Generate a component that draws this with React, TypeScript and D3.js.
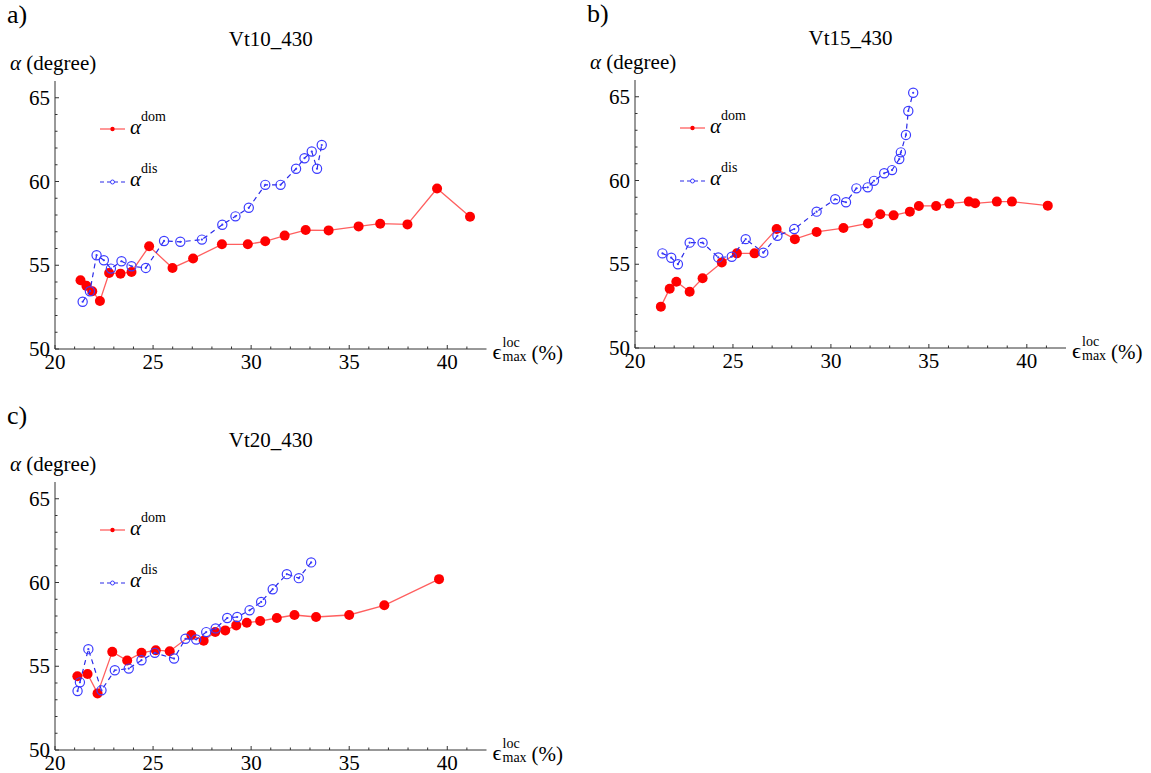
import React from "react";
import * as d3 from "d3";

// ---- Data ----
const aDomX = [21.3, 21.6, 21.9, 22.29, 22.76, 23.34, 23.9, 24.8, 25.99, 27.04, 28.51, 29.83, 30.72, 31.71, 32.78, 33.95, 35.48, 36.58, 37.97, 39.48, 41.16];
const aDomY = [54.1, 53.77, 53.45, 52.87, 54.54, 54.5, 54.6, 56.13, 54.84, 55.4, 56.25, 56.25, 56.43, 56.77, 57.1, 57.08, 57.32, 57.48, 57.44, 59.58, 57.9];
const aDisX = [21.41, 21.78, 22.12, 22.49, 22.85, 23.39, 23.9, 24.63, 25.56, 26.39, 27.49, 28.53, 29.2, 29.88, 30.72, 31.5, 32.29, 32.72, 33.09, 33.36, 33.6];
const aDisY = [52.82, 53.45, 55.6, 55.3, 54.8, 55.24, 54.94, 54.84, 56.45, 56.4, 56.53, 57.42, 57.92, 58.43, 59.8, 59.8, 60.76, 61.39, 61.79, 60.76, 62.18];

const bDomX = [21.32, 21.77, 22.11, 22.79, 23.45, 24.43, 25.2, 26.1, 27.23, 28.16, 29.27, 30.64, 31.89, 32.52, 33.2, 34.03, 34.49, 35.37, 36.05, 37.04, 37.36, 38.47, 39.24, 41.07];
const bDomY = [52.47, 53.54, 53.96, 53.36, 54.16, 55.11, 55.65, 55.65, 57.1, 56.5, 56.93, 57.16, 57.44, 57.98, 57.92, 58.14, 58.48, 58.48, 58.62, 58.74, 58.64, 58.74, 58.74, 58.5];
const bDisX = [21.4, 21.85, 22.19, 22.79, 23.45, 24.25, 24.94, 25.65, 26.55, 27.27, 28.13, 29.27, 30.22, 30.77, 31.3, 31.88, 32.2, 32.72, 33.12, 33.49, 33.57, 33.83, 33.95, 34.2];
const bDisY = [55.65, 55.39, 55.0, 56.29, 56.29, 55.41, 55.45, 56.5, 55.69, 56.7, 57.1, 58.14, 58.88, 58.7, 59.53, 59.59, 59.98, 60.43, 60.62, 61.28, 61.68, 62.72, 64.15, 65.24];

const cDomX = [21.14, 21.66, 22.17, 22.92, 23.68, 24.41, 25.14, 25.85, 26.95, 27.58, 28.17, 28.68, 29.24, 29.78, 30.46, 31.31, 32.21, 33.31, 35.0, 36.79, 39.58];
const cDomY = [54.4, 54.54, 53.38, 55.86, 55.34, 55.8, 55.96, 55.9, 56.86, 56.52, 57.04, 57.14, 57.44, 57.6, 57.7, 57.88, 58.06, 57.94, 58.06, 58.64, 60.2];
const cDisX = [21.15, 21.27, 21.7, 22.37, 23.05, 23.76, 24.41, 25.09, 26.07, 26.65, 27.2, 27.71, 28.19, 28.78, 29.29, 29.92, 30.51, 31.1, 31.82, 32.43, 33.06];
const cDisY = [53.52, 54.04, 56.02, 53.56, 54.76, 54.86, 55.36, 55.8, 55.46, 56.64, 56.6, 57.04, 57.26, 57.88, 57.94, 58.34, 58.84, 59.6, 60.5, 60.26, 61.2];

const xMajorTicks = [20, 25, 30, 35, 40];
const xMinorTicks = d3.range(21, 42).filter((v) => v % 5 !== 0);
const yMajorTicks = [50, 55, 60, 65];
const yMinorTicks = d3.range(51, 66).filter((v) => v % 5 !== 0);
const xDomain = [20, 42];
const yDomain = [50, 66];

const titles = ["Vt10_430", "Vt15_430", "Vt20_430"];
const letters = ["a)", "b)", "c)"];

const FONT = "'Liberation Serif', 'Times New Roman', 'DejaVu Serif', serif";
const RED = "#ff0000";
const RED_LINE = "#ff5f5f";
const BLUE = "#3c3cff";
const BLUE_LINE = "#2a2ae8";

type PanelProps = {
  x0: number;
  y50: number;
  width: number;
  title: string;
  letter: string;
  domX: number[];
  domY: number[];
  disX: number[];
  disY: number[];
};

function Panel({ x0, y50, width, title, letter, domX, domY, disX, disY }: PanelProps) {
  const height = 268;
  const xs = d3.scaleLinear().domain(xDomain).range([x0, x0 + width]);
  const ys = d3.scaleLinear().domain(yDomain).range([y50, y50 - height]);
  const line = d3
    .line<[number, number]>()
    .x((d) => xs(d[0]))
    .y((d) => ys(d[1]));
  const dom: [number, number][] = domX.map((x, i) => [x, domY[i]]);
  const dis: [number, number][] = disX.map((x, i) => [x, disY[i]]);
  const xEnd = x0 + width;
  const top = y50 - height;
  const midX = x0 + width / 2;
  const legRedY = top + 48;
  const legBlueY = top + 101;
  const st = { fontFamily: FONT };
  return (
    <g style={st}>
      <text x={x0 - 48} y={y50 - 326} fontSize={26}>
        {letter}
      </text>
      <text x={midX} y={y50 - 303} fontSize={21} textAnchor="middle">
        {title}
      </text>
      <text x={x0 - 45} y={y50 - 279} fontSize={21}>
        <tspan fontStyle="italic">α</tspan>
        <tspan> (degree)</tspan>
      </text>

      <line x1={x0} x2={xEnd} y1={y50} y2={y50} stroke="#333" strokeWidth={1} />
      <line x1={x0} x2={x0} y1={y50} y2={top} stroke="#333" strokeWidth={1} />
      {xMajorTicks.map((t) => (
        <g key={"xM" + t}>
          <line x1={xs(t)} x2={xs(t)} y1={y50} y2={y50 - 4} stroke="#333" />
          <text x={xs(t)} y={y50 + 20} fontSize={21} textAnchor="middle">
            {t}
          </text>
        </g>
      ))}
      {xMinorTicks.map((t) => (
        <line key={"xm" + t} x1={xs(t)} x2={xs(t)} y1={y50} y2={y50 - 2.5} stroke="#333" />
      ))}
      {yMajorTicks.map((t) => (
        <g key={"yM" + t}>
          <line x1={x0} x2={x0 + 4} y1={ys(t)} y2={ys(t)} stroke="#333" />
          <text x={x0 - 5} y={ys(t) + 7} fontSize={21} textAnchor="end">
            {t}
          </text>
        </g>
      ))}
      {yMinorTicks.map((t) => (
        <line key={"ym" + t} x1={x0} x2={x0 + 2.5} y1={ys(t)} y2={ys(t)} stroke="#333" />
      ))}

      <text x={xEnd + 6} y={y50 + 10} fontSize={22}>
        ϵ
      </text>
      <text x={xEnd + 16} y={y50 - 2} fontSize={14}>
        loc
      </text>
      <text x={xEnd + 16} y={y50 + 12} fontSize={14}>
        max
      </text>
      <text x={xEnd + 45} y={y50 + 11} fontSize={21}>
        (%)
      </text>

      <line x1={x0 + 45} x2={x0 + 70} y1={legRedY} y2={legRedY} stroke={RED_LINE} strokeWidth={1.3} />
      <circle cx={x0 + 57.5} cy={legRedY} r={2.2} fill={RED} />
      <text x={x0 + 75} y={legRedY + 5} fontSize={21}>
        <tspan fontStyle="italic">α</tspan>
        <tspan fontSize={14} dy={-13}>dom</tspan>
      </text>
      <line x1={x0 + 45} x2={x0 + 70} y1={legBlueY} y2={legBlueY} stroke={BLUE_LINE} strokeWidth={1.2} strokeDasharray="4,3" />
      <circle cx={x0 + 57.5} cy={legBlueY} r={2} fill="white" stroke={BLUE} strokeWidth={1} />
      <text x={x0 + 75} y={legBlueY + 4} fontSize={21}>
        <tspan fontStyle="italic">α</tspan>
        <tspan fontSize={14} dy={-13}>dis</tspan>
      </text>

      <path d={line(dom) || ""} fill="none" stroke={RED_LINE} strokeWidth={1.3} />
      {dom.map((d, i) => (
        <circle key={"d" + i} cx={xs(d[0])} cy={ys(d[1])} r={5} fill={RED} />
      ))}

      <path d={line(dis) || ""} fill="none" stroke={BLUE_LINE} strokeWidth={1.2} strokeDasharray="5,4" />
      {dis.map((d, i) => (
        <g key={"s" + i}>
          <circle cx={xs(d[0])} cy={ys(d[1])} r={4.6} fill="none" stroke={BLUE} strokeWidth={1.2} />
          <circle cx={xs(d[0])} cy={ys(d[1])} r={1.1} fill={BLUE} />
        </g>
      ))}
    </g>
  );
}

export default function App() {
  return (
    <svg width={1151} height={773} viewBox="0 0 1151 773" style={{ position: "absolute", left: 0, top: 0, background: "white" }}>
      <rect width={1151} height={773} fill="white" />
      <Panel x0={55} y50={349} width={431.5} title={titles[0]} letter={letters[0]} domX={aDomX} domY={aDomY} disX={aDisX} disY={aDisY} />
      <Panel x0={635} y50={348} width={431} title={titles[1]} letter={letters[1]} domX={bDomX} domY={bDomY} disX={bDisX} disY={bDisY} />
      <Panel x0={55} y50={750} width={431.5} title={titles[2]} letter={letters[2]} domX={cDomX} domY={cDomY} disX={cDisX} disY={cDisY} />
    </svg>
  );
}
